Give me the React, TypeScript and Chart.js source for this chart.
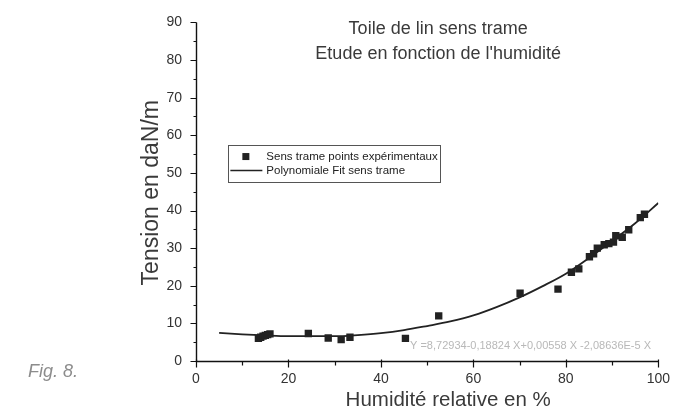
import React, { useEffect, useRef } from "react";
import { Chart, registerables } from "chart.js";

Chart.register(...registerables);

const pointX = [13.5, 14.0, 14.5, 15.0, 15.5, 16.0, 24.3, 28.6, 31.4, 33.3, 45.3, 52.5, 70.1, 78.3, 81.2, 82.8, 85.1, 86.0, 86.8, 88.3, 89.3, 90.3, 90.8, 92.2, 93.6, 96.1, 97.0];
const pointY = [6.0, 6.3, 6.6, 6.8, 7.0, 7.2, 7.3, 6.1, 5.7, 6.3, 6.0, 12.0, 18.0, 19.1, 23.6, 24.5, 27.7, 28.5, 30.0, 30.9, 31.2, 31.6, 33.3, 32.9, 34.9, 38.1, 39.0];

const fitX = [5, 10, 15, 20, 25, 30, 35, 40, 45, 50, 55, 60, 65, 70, 75, 80, 85, 90, 95, 100];
const fitY = [7.5, 7.1, 6.8, 6.6, 6.6, 6.6, 6.9, 7.4, 8.2, 9.3, 10.5, 12.1, 14.3, 16.9, 19.9, 23.2, 27.4, 31.9, 36.6, 42.0];

const xMajorTicks = [0, 20, 40, 60, 80, 100];
const xMinorTicks = [10, 30, 50, 70, 90];
const yMajorTicks = [0, 10, 20, 30, 40, 50, 60, 70, 80, 90];
const yMinorTicks = [5, 15, 25, 35, 45, 55, 65, 75, 85];

const titleLines = ["Toile de lin sens trame", "Etude en fonction de l'humidité"];
const xTitle = "Humidité relative en %";
const yTitle = "Tension en daN/m";
const legendPoints = "Sens trame points expérimentaux";
const legendFit = "Polynomiale Fit sens trame";
const figLabel = "Fig. 8.";
const equation = "Y =8,72934-0,18824 X+0,00558 X -2,08636E-5 X";

const FONT = "'Liberation Sans', Arial, sans-serif";

const decorPlugin = {
  id: "decor",
  afterDraw(chart: any) {
    const ctx = chart.ctx as CanvasRenderingContext2D;
    const xs = chart.scales.x;
    const ys = chart.scales.y;
    const area = chart.chartArea;
    const ax = Math.round(area.left) + 0.5;
    const ay = Math.round(area.bottom) + 0.5;
    ctx.save();
    ctx.strokeStyle = "#111";
    ctx.lineWidth = 1.4;
    // axis lines
    ctx.beginPath();
    ctx.moveTo(ax, area.top);
    ctx.lineTo(ax, ay);
    ctx.lineTo(area.right, ay);
    ctx.stroke();
    // ticks
    ctx.lineWidth = 1.2;
    ctx.beginPath();
    yMajorTicks.forEach((v) => {
      const p = Math.round(ys.getPixelForValue(v)) + 0.5;
      ctx.moveTo(ax - 6, p);
      ctx.lineTo(ax, p);
    });
    yMinorTicks.forEach((v) => {
      const p = Math.round(ys.getPixelForValue(v)) + 0.5;
      ctx.moveTo(ax - 3, p);
      ctx.lineTo(ax, p);
    });
    xMajorTicks.forEach((v) => {
      const p = Math.round(xs.getPixelForValue(v)) + 0.5;
      ctx.moveTo(p, ay - 2);
      ctx.lineTo(p, ay + 6);
    });
    xMinorTicks.forEach((v) => {
      const p = Math.round(xs.getPixelForValue(v)) + 0.5;
      ctx.moveTo(p, ay);
      ctx.lineTo(p, ay + 4);
    });
    ctx.stroke();

    // title
    ctx.fillStyle = "#3a3a3a";
    ctx.textAlign = "center";
    ctx.textBaseline = "alphabetic";
    ctx.font = `18px ${FONT}`;
    const cx = (area.left + area.right) / 2 + 11;
    ctx.fillText(titleLines[0], cx, area.top + 12);
    ctx.fillText(titleLines[1], cx, area.top + 37);

    // x title
    ctx.font = `20.5px ${FONT}`;
    ctx.fillText(xTitle, (area.left + area.right) / 2 + 21, area.bottom + 45);

    // y title
    ctx.save();
    ctx.translate(area.left - 44, (area.top + area.bottom) / 2 + 1);
    ctx.rotate(-Math.PI / 2);
    ctx.font = `23px ${FONT}`;
    ctx.textBaseline = "middle";
    ctx.fillText(yTitle, 0, 0);
    ctx.restore();

    // legend
    const lx = xs.getPixelForValue(7);
    const ly = ys.getPixelForValue(57.4);
    ctx.strokeStyle = "#555";
    ctx.lineWidth = 1;
    ctx.strokeRect(Math.round(lx) + 0.5, Math.round(ly) + 0.5, 212, 37);
    ctx.fillStyle = "#222";
    ctx.fillRect(lx + 14, ly + 8, 7, 7);
    ctx.strokeStyle = "#222";
    ctx.lineWidth = 1.6;
    ctx.beginPath();
    ctx.moveTo(lx + 2, ly + 25.5);
    ctx.lineTo(lx + 34, ly + 25.5);
    ctx.stroke();
    ctx.font = `11.5px ${FONT}`;
    ctx.textAlign = "left";
    ctx.textBaseline = "middle";
    ctx.fillText(legendPoints, lx + 38, ly + 12);
    ctx.fillText(legendFit, lx + 38, ly + 26);

    // equation
    ctx.fillStyle = "#b8b8b8";
    ctx.font = `11px ${FONT}`;
    ctx.textBaseline = "alphabetic";
    ctx.fillText(equation, xs.getPixelForValue(46.3), ys.getPixelForValue(3.1));

    // fig label
    ctx.fillStyle = "#8c8c8c";
    ctx.font = `italic 18px ${FONT}`;
    ctx.fillText(figLabel, 28, 377);
    ctx.restore();
  },
};

export default function App() {
  const ref = useRef<HTMLCanvasElement>(null);
  useEffect(() => {
    document.body.style.margin = "0";
    const canvas = ref.current;
    if (!canvas) return;
    const tickFont = { family: FONT, size: 14 };
    const chart = new Chart(canvas, {
      type: "scatter",
      data: {
        datasets: [
          {
            label: legendFit,
            data: fitX.map((x, i) => ({ x, y: fitY[i] })),
            showLine: true,
            borderColor: "#222",
            borderWidth: 1.8,
            pointRadius: 0,
            cubicInterpolationMode: "monotone",
            order: 2,
          } as any,
          {
            label: legendPoints,
            data: pointX.map((x, i) => ({ x, y: pointY[i] })),
            pointStyle: "rect",
            pointRadius: 5.2,
            backgroundColor: "#222",
            borderColor: "#222",
            borderWidth: 0,
            showLine: false,
            order: 1,
          } as any,
        ],
      },
      options: {
        responsive: false,
        animation: false,
        devicePixelRatio: 1,
        layout: { padding: { left: 0, top: 16, right: 15, bottom: 0 } },
        plugins: {
          legend: { display: false },
          title: { display: false },
          tooltip: { enabled: false },
        },
        scales: {
          x: {
            type: "linear",
            min: 0,
            max: 100,
            grid: { display: false, drawTicks: false },
            border: { display: false },
            ticks: {
              stepSize: 20,
              padding: 10,
              color: "#333",
              font: tickFont,
              maxRotation: 0,
            },
            afterFit: (s: any) => {
              s.height = 51;
            },
          },
          y: {
            type: "linear",
            min: 0,
            max: 90,
            grid: { display: false, drawTicks: false },
            border: { display: false },
            ticks: {
              stepSize: 10,
              padding: 14,
              color: "#333",
              font: tickFont,
            },
            afterFit: (s: any) => {
              s.width = 196;
            },
          },
        },
      } as any,
      plugins: [decorPlugin],
    });
    return () => chart.destroy();
  }, []);
  return <canvas ref={ref} width={680} height={412} style={{ display: "block" }} />;
}
